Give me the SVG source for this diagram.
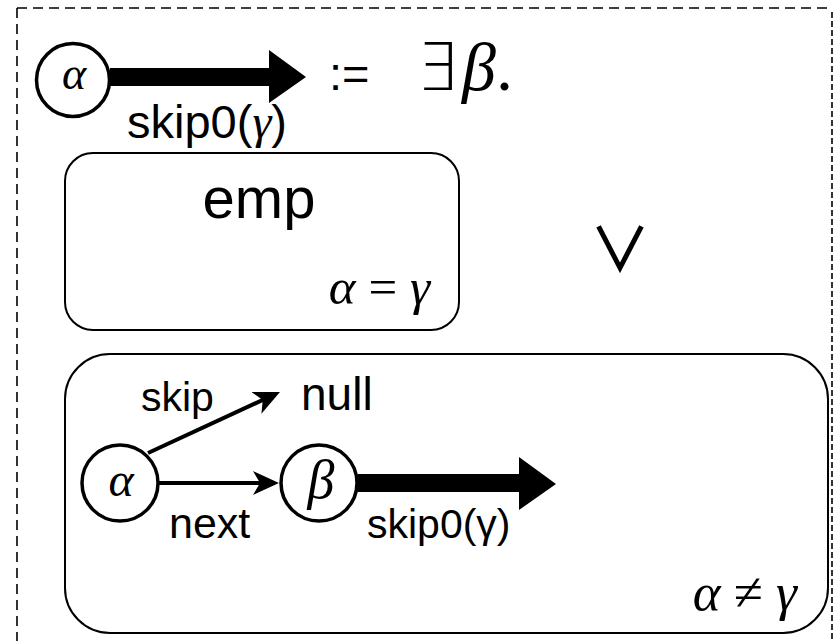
<svg xmlns="http://www.w3.org/2000/svg" width="836" height="641" viewBox="0 0 836 641">
<style>
.lbl{font-family:"Liberation Sans","DejaVu Sans",sans-serif;fill:#000}
.math{font-family:"Liberation Serif","DejaVu Serif",serif;font-style:italic;fill:#000}
.sym{font-family:"DejaVu Sans ExtraLight","DejaVu Sans",sans-serif;font-weight:200;fill:#000}
.or{font-family:"Noto Sans CJK JP","DejaVu Sans",sans-serif;font-weight:500;fill:#000}
.node{fill:#fff;stroke:#000;stroke-width:3.5}
.box{fill:none;stroke:#000;stroke-width:2}
.thin{stroke:#000;stroke-width:4;fill:none}
.dash{stroke:#000;stroke-width:1.6;fill:none}
</style>
<defs>
<marker id="ah" markerUnits="userSpaceOnUse" viewBox="0 0 26 26" markerWidth="26" markerHeight="26" refX="14" refY="13" orient="auto">
<path d="M0,1 L26,13 L0,25 L7,13 z" fill="#000"/>
</marker>
</defs>
<rect width="836" height="641" fill="#fff"/>
<g id="frame">
<line class="dash" x1="17" y1="8" x2="832" y2="8" stroke-dasharray="10,6"/>
<line class="dash" x1="17" y1="8" x2="17" y2="641" stroke-dasharray="10,6"/>
<line class="dash" x1="832" y1="12" x2="832" y2="641" stroke-dasharray="6,3"/>
</g>
<g id="connectors">
<polygon points="110,68 269,68 269,50 306,77 269,103 269,86 110,86" fill="#000"/>
<polygon points="358,474 519,474 519,457 556,484 519,510 519,492 358,492" fill="#000"/>
<line class="thin" x1="148" y1="453" x2="269.1" y2="397" marker-end="url(#ah)"/>
<line class="thin" x1="159" y1="483" x2="267" y2="483" marker-end="url(#ah)"/>
</g>
<g id="head-alpha">
<circle class="node" cx="73" cy="80" r="36.5"/>
<text class="math" x="74" y="89" font-size="46" text-anchor="middle">α</text>
</g>
<g id="head-label">
<text class="lbl" x="127" y="138" font-size="47">skip0(<tspan class="math" font-size="48">γ</tspan>)</text>
</g>
<g id="definition">
<text class="lbl" x="329" y="90" font-size="47">:=</text>
<text class="sym" x="416" y="90" font-size="66">∃</text>
<text class="math" x="462" y="90" font-size="68">β<tspan font-style="normal">.</tspan></text>
</g>
<g id="emp-box">
<rect class="box" x="65" y="153" width="394" height="177" rx="28"/>
<text class="lbl" x="259" y="218" font-size="58" text-anchor="middle">emp</text>
<text class="math" x="430" y="304" font-size="51" text-anchor="end">α <tspan font-style="normal">=</tspan> γ</text>
</g>
<g id="or">
<text class="or" x="620" y="272" font-size="61" text-anchor="middle">∨</text>
</g>
<g id="list-box">
<rect class="box" x="65" y="354" width="763" height="279" rx="45"/>
<text class="math" x="797" y="610" font-size="53" text-anchor="end">α <tspan font-style="normal">≠</tspan> γ</text>
</g>
<g id="alpha">
<circle class="node" cx="120" cy="483" r="38"/>
<text class="math" x="121" y="496" font-size="48" text-anchor="middle">α</text>
</g>
<g id="beta">
<circle class="node" cx="319" cy="483" r="38"/>
<text class="math" x="321" y="498" font-size="54" text-anchor="middle">β</text>
</g>
<g id="null">
<text class="lbl" x="301" y="410" font-size="46">null</text>
</g>
<g id="edge-labels">
<text class="lbl" x="141" y="411" font-size="41">skip</text>
<text class="lbl" x="169" y="538" font-size="43">next</text>
<text class="lbl" x="367" y="538" font-size="41">skip0(γ)</text>
</g>
</svg>
